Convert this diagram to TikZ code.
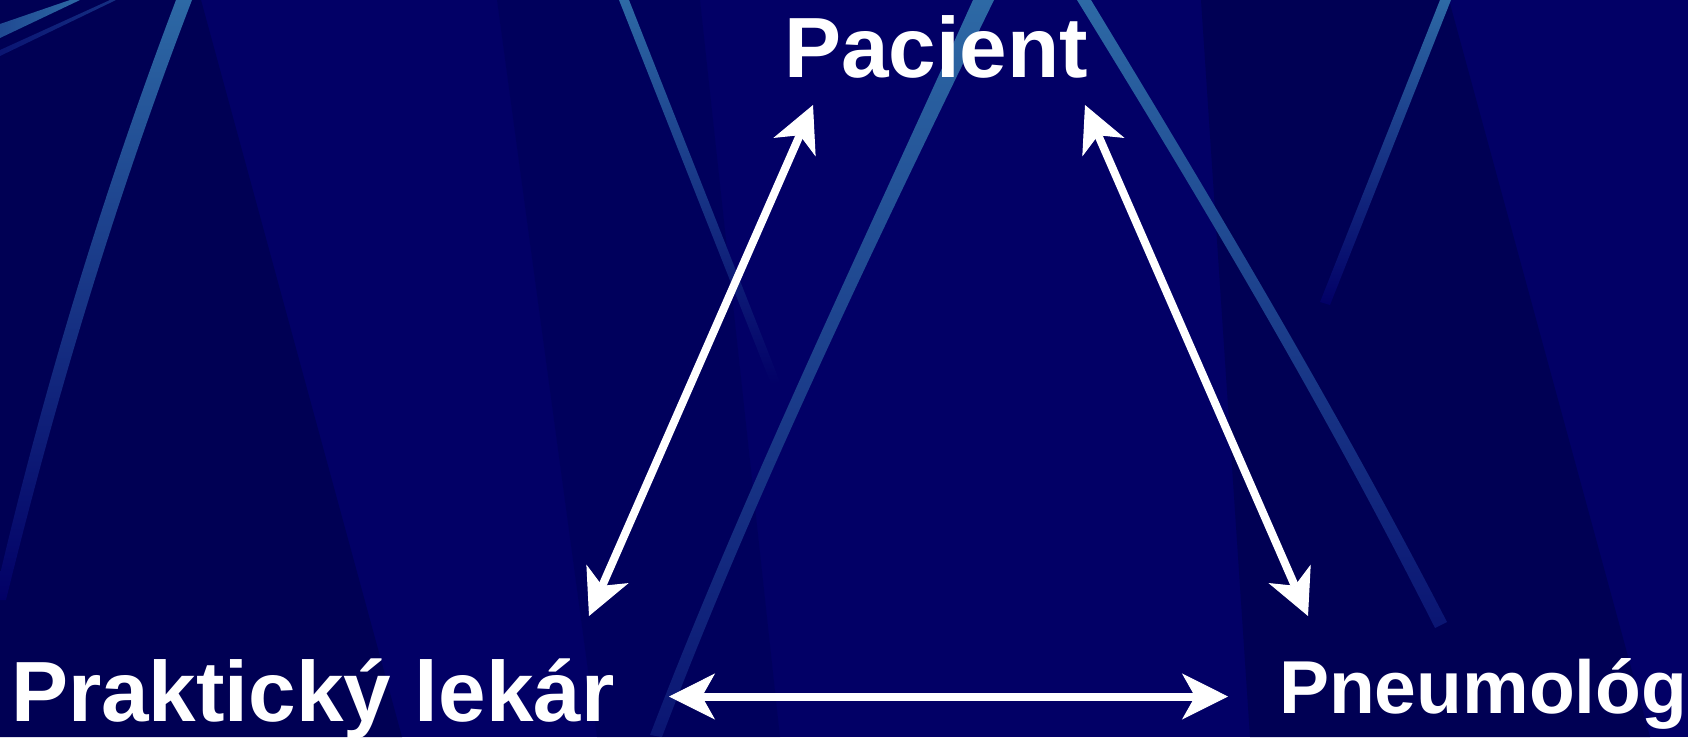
\documentclass[tikz,border=0pt]{standalone}
\usepackage{fontspec}
\setmainfont{Liberation Sans}
\usetikzlibrary{arrows.meta}
\definecolor{bg}{RGB}{2,0,102}
\definecolor{bgdark}{RGB}{0,0,84}
\definecolor{streak}{RGB}{45,105,165}
\tikzset{
  label/.style={inner sep=0pt, outer sep=0pt, text=white, font=\bfseries\fontsize{85.5}{90}\selectfont, anchor=base west},
  dblarrow/.style={white, line width=8pt,
    {Stealth[length=46pt,width=46pt,inset=13pt,line width=1pt]}-{Stealth[length=46pt,width=46pt,inset=13pt,line width=1pt]}},
}
\begin{document}
\begin{tikzpicture}[x=1pt,y=-1pt]
\useasboundingbox (0,0) rectangle (1688,737);
\fill[bg] (0,0) rectangle (1688,737);
% darker panels
\fill[bgdark] (0,0) -- (201,0) -- (402,737) -- (0,737) -- cycle;
\fill[bgdark,opacity=0.5] (497,0) -- (700,0) -- (780,737) -- (597,737) -- cycle;
\fill[bgdark] (1201,0) -- (1449,0) -- (1650,737) -- (1250,737) -- cycle;
% streaks
\shade[top color=streak, middle color=streak!85!bg, bottom color=bg]
  (176,0) .. controls (100,200) and (40,400) .. (-6,600) -- (6,600) .. controls (55,400) and (115,200) .. (192,0) -- cycle;
\shade[left color=streak!70!bg, right color=streak]
  (0,24) -- (70,0) -- (80,0) -- (0,38) -- cycle;
\shade[left color=streak!20!bg, right color=streak!45!bg]
  (0,50) -- (110,0) -- (116,0) -- (0,56) -- cycle;
\shade[top color=streak, middle color=streak!80!bg, bottom color=bg]
  (619,0) -- (629,0) -- (780,382) -- (771,384) -- cycle;
\shade[top color=streak, middle color=streak!80!bg, bottom color=bg!80!streak]
  (973,0) .. controls (860,250) and (740,500) .. (650,735) -- (662,737) .. controls (752,500) and (872,250) .. (994,0) -- cycle;
\shade[top color=streak, middle color=streak!85!bg, bottom color=bg!80!streak]
  (1077,0) .. controls (1200,200) and (1320,400) .. (1435,628) -- (1447,622) .. controls (1332,400) and (1212,200) .. (1091,0) -- cycle;
\shade[top color=streak, middle color=streak!70!bg, bottom color=bg]
  (1440,0) -- (1451,0) -- (1330,305) -- (1320,302) -- cycle;
% labels
\node[label] (pacient) at (784,77) {Pacient};
\node[label] (lekar) at (11,721) {Praktický lekár};
\node[label, font=\bfseries\fontsize{75}{80}\selectfont] (pneumolog) at (1279,713) {Pneumológ};
% arrow ends
\coordinate (pa1) at (813,105);
\coordinate (pl1) at (589,616);
\coordinate (pa2) at (1085,105);
\coordinate (pn1) at (1308,616);
\coordinate (pl2) at (669,696.5);
\coordinate (pn2) at (1228,696.5);
\draw[dblarrow] (pl1) -- (pa1);
\draw[dblarrow] (pa2) -- (pn1);
\draw[dblarrow] (pl2) -- (pn2);
\end{tikzpicture}
\end{document}
